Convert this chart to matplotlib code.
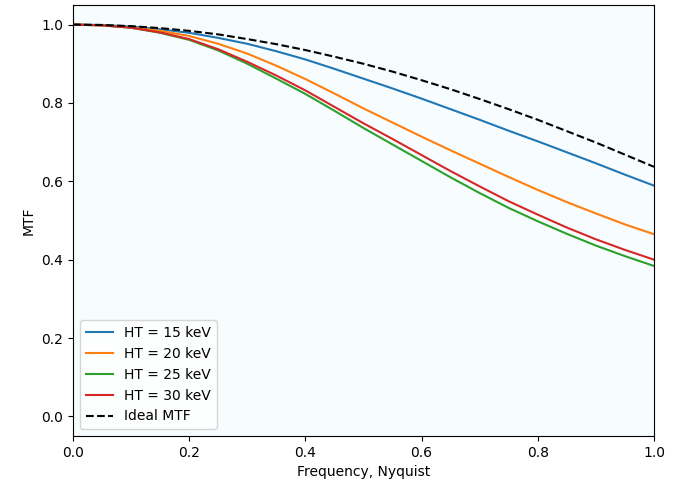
import matplotlib
matplotlib.use("Agg")
import matplotlib.pyplot as plt

# frecuencia normalizada (Nyquist)
freq = [0.0, 0.05, 0.1, 0.15, 0.2, 0.25, 0.3, 0.35, 0.4, 0.45, 0.5,
        0.55, 0.6, 0.65, 0.7, 0.75, 0.8, 0.85, 0.9, 0.95, 1.0]

mtf_15 = [1.0, 0.999, 0.995, 0.988, 0.979, 0.966, 0.951, 0.932, 0.911, 0.887, 0.862,
          0.837, 0.811, 0.784, 0.757, 0.729, 0.702, 0.674, 0.646, 0.617, 0.589]
mtf_20 = [1.0, 0.998, 0.993, 0.984, 0.971, 0.951, 0.926, 0.895, 0.861, 0.824, 0.786,
          0.750, 0.714, 0.679, 0.645, 0.611, 0.578, 0.547, 0.518, 0.490, 0.465]
mtf_25 = [1.0, 0.998, 0.992, 0.979, 0.961, 0.934, 0.900, 0.862, 0.823, 0.780, 0.736,
          0.694, 0.652, 0.610, 0.570, 0.532, 0.498, 0.466, 0.436, 0.409, 0.384]
mtf_30 = [1.0, 0.998, 0.992, 0.980, 0.963, 0.937, 0.905, 0.870, 0.832, 0.790, 0.748,
          0.708, 0.667, 0.626, 0.587, 0.549, 0.515, 0.482, 0.452, 0.425, 0.400]
mtf_ideal = [1.0, 0.999, 0.996, 0.991, 0.984, 0.975, 0.963, 0.950, 0.935, 0.918, 0.900,
             0.880, 0.858, 0.835, 0.810, 0.784, 0.757, 0.728, 0.699, 0.668, 0.637]

series = [(mtf_15, "HT = 15 keV"), (mtf_20, "HT = 20 keV"),
          (mtf_25, "HT = 25 keV"), (mtf_30, "HT = 30 keV")]

fig = plt.figure(figsize=(6.81, 4.91), dpi=100)
ax = fig.add_axes([73 / 681, 55 / 491, 581 / 681, 431 / 491])
ax.set_facecolor("#f7fcfe")

for vals, lab in series:
    ax.plot(freq, vals, label=lab)
ax.plot(freq, mtf_ideal, "k--", label="Ideal MTF")

ax.set_xlim(0, 1)
ax.set_ylim(-0.05, 1.05)
ax.set_xlabel("Frequency, Nyquist")
ax.set_ylabel("MTF")
ax.legend(loc="lower left")

fig.savefig("out.png", dpi=100)
